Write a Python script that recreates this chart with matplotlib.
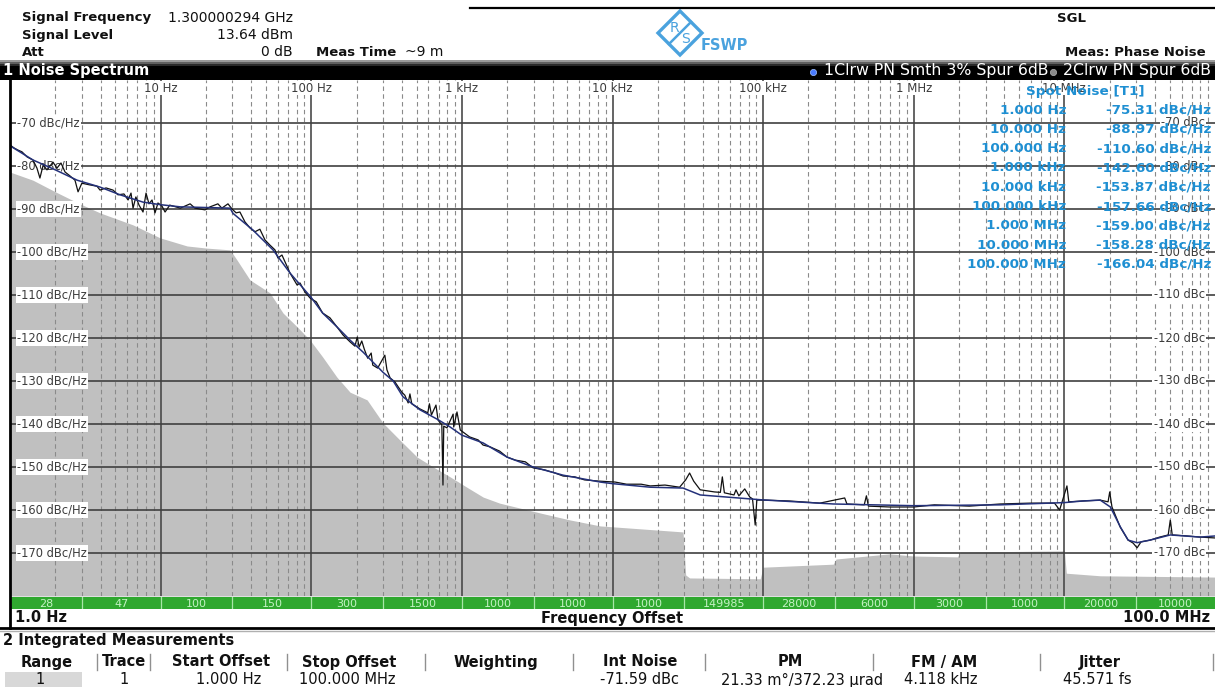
import numpy as np
import matplotlib
matplotlib.use("Agg")
import matplotlib.pyplot as plt
from matplotlib.patches import Rectangle, Polygon

plt.rcParams['font.family'] = ['DejaVu Sans']

W, H = 1215, 687

# ---------------- data ----------------
sig_freq = "1.300000294 GHz"
sig_level = "13.64 dBm"
att = "0 dB"
meas_time = "~9 m"

y_levels = [-70, -80, -90, -100, -110, -120, -130, -140, -150, -160, -170]
decades = [10, 100, 1e3, 1e4, 1e5, 1e6, 1e7]
decade_labels = ["10 Hz", "100 Hz", "1 kHz", "10 kHz", "100 kHz", "1 MHz", "10 MHz"]

# trace 1, raw (black) with spurs : (offset Hz, dBc/Hz)
raw_trace = [
    (1, -75.1), (1.063, -75.8), (1.13, -76.3), (1.20, -76.7), (1.30, -77.9), (1.42, -78.6),
    (1.51, -80.5), (1.58, -82.8), (1.66, -79.8), (1.76, -80.9), (1.93, -79.1), (2.05, -80.5),
    (2.18, -79.3), (2.32, -81.4), (2.50, -82.3), (2.70, -83.3), (2.83, -86.0), (3.0, -84.0),
    (3.39, -84.4), (3.78, -84.7), (3.96, -85.6), (4.34, -85.1), (4.83, -85.6), (5.21, -86.7),
    (5.71, -86.5), (6.08, -87.9), (6.36, -86.3), (6.56, -89.8), (6.85, -87.2), (7.19, -89.1),
    (7.64, -90.7), (8.0, -86.3), (8.37, -88.8), (8.77, -87.9), (9.18, -90.9), (9.6, -88.6),
    (10.2, -89.3), (10.7, -90.7), (11.5, -89.1), (13.5, -89.8), (15.7, -88.8), (16.9, -89.8),
    (19.7, -90.2), (21.3, -89.5), (24.0, -88.8), (25.5, -89.8), (28.0, -88.8), (29.8, -90.0),
    (31.7, -90.9), (33.6, -90.7), (36.3, -93.0), (39.2, -94.4), (42.3, -95.3), (45.6, -94.7),
    (49.3, -97.2), (53.2, -98.4), (57.4, -99.5), (60.1, -101.4), (63.9, -100.7), (72.3, -104.9),
    (80.6, -107.7), (84.2, -107.2), (90.8, -109.3), (98.2, -110.7), (108, -111.6), (119, -114.2),
    (133, -115.3), (148, -117.4), (162.6, -119.3), (181, -120.9), (195, -121.9), (202, -119.8),
    (208, -122.1), (216.5, -120.7), (225, -122.6), (237, -124.7), (250, -123.5), (256, -126.3),
    (276, -127.0), (308, -124.0), (318, -127.4), (334, -129.3), (359, -130.2), (399, -132.6),
    (418, -133.3), (440, -135.1), (452, -133.0), (465, -135.3), (527, -136.5), (594, -137.4),
    (609, -135.3), (628, -137.9), (673, -135.6), (695, -139.1), (736, -140.2), (749, -154.2),
    (758, -140.5), (796, -140.9), (875, -137.7), (883, -140.7), (928, -137.2), (976, -141.4),
    (1058, -142.3), (1125, -143.0), (1282, -143.7), (1383, -144.9), (1535, -145.3), (1780, -146.3),
    (1995, -147.7), (2266, -148.4), (2640, -148.8), (2970, -150.2), (3565, -150.7), (4150, -151.4),
    (4700, -152.1), (5630, -152.3), (6520, -153.0), (8280, -153.3), (10.4e3, -153.5), (12.4e3, -154.0),
    (15.5e3, -154.0), (17.8e3, -154.4), (22.3e3, -154.2), (27.9e3, -154.7), (30.6e3, -153.0),
    (32.5e3, -151.4), (34.6e3, -153.3), (38.2e3, -155.3), (47.6e3, -155.8), (52e3, -155.9),
    (53.6e3, -152.3), (55.3e3, -156.0), (64.1e3, -156.5), (66e3, -155.3), (69e3, -156.7),
    (75.5e3, -155.1), (81.6e3, -157.0), (85e3, -157.4), (88.6e3, -163.5), (90.8e3, -157.7),
    (103e3, -157.7), (149e3, -157.9), (238e3, -158.4), (348e3, -157.2), (360e3, -158.6),
    (469e3, -158.8), (485e3, -156.7), (500e3, -159.1), (690e3, -159.3), (1e6, -159.3),
    (1.37e6, -158.8), (2.34e6, -159.1), (3.75e6, -158.6), (5.92e6, -158.4), (8.6e6, -158.4),
    (9.3e6, -160.0), (9.6e6, -158.4), (10.4e6, -154.4), (10.7e6, -158.1), (13.3e6, -157.9),
    (17.3e6, -157.7), (19.5e6, -158.1), (20.0e6, -155.8), (20.7e6, -159.3), (23.5e6, -164.0),
    (26.5e6, -167.0), (28.6e6, -167.7), (30.4e6, -168.8), (32.3e6, -167.4), (37.1e6, -167.0),
    (42.9e6, -166.3), (48.9e6, -165.8), (50.5e6, -162.3), (52e6, -165.8), (63.2e6, -166.0),
    (79.8e6, -166.3), (1e8, -166.5),
]

# trace 1, smoothed (navy)
smooth_trace = [
    (1, -75.3), (1.42, -78.6), (2.0, -80.9), (2.79, -83.3), (3.96, -84.9), (5.38, -86.7),
    (7.64, -88.4), (10, -89.0), (13.5, -89.5), (28.9, -89.8), (30.2, -91.0), (41, -94.9),
    (55.7, -99.5), (72.3, -104.9), (100, -110.6), (119, -114.2), (148, -117.4), (181, -120.5),
    (221, -123.3), (300, -128.0), (350, -130.0), (407, -133.7), (527, -136.7), (695, -139.0),
    (836, -140.7), (1000, -142.6), (1383, -144.4), (1995, -147.7), (2970, -150.0), (4700, -151.9),
    (8280, -153.5), (1e4, -153.87), (17.8e3, -154.7), (29.4e3, -154.9), (38.2e3, -156.5),
    (1e5, -157.66), (292e3, -158.6), (1e6, -159.0), (3.75e6, -158.8), (1e7, -158.28),
    (13.3e6, -157.9), (17.3e6, -157.7), (20.2e6, -159.3), (23.5e6, -163.9), (26.5e6, -167.0),
    (30.4e6, -167.6), (37.1e6, -167.0), (50.5e6, -165.8), (79.8e6, -166.3), (1e8, -166.04),
]

# trace 2 (grey area)
floor_trace = [
    (1, -81.4), (1.42, -83.3), (2.0, -86.0), (2.83, -88.6), (3.96, -90.9), (6.56, -93.7),
    (9.9, -96.7), (15, -98.6), (20.3, -99.1), (28.9, -99.5), (32.2, -101.9), (39.2, -106.5),
    (53.2, -109.5), (65, -114.2), (80.6, -117.4), (98.2, -120.5), (119, -124.4), (148, -129.1),
    (181, -132.6), (235, -134.4), (300, -139.8), (387, -143.7), (505, -147.7), (646, -150.0),
    (836, -152.3), (1079, -154.7), (1385, -157.0), (1780, -158.4), (3320, -160.7), (5200, -162.3),
    (8280, -163.7), (29.4e3, -165.1), (30.6e3, -175.1), (32.5e3, -175.8), (95.6e3, -176.0),
    (100e3, -173.3), (292e3, -172.6), (305e3, -171.4), (690e3, -170.2), (1e6, -170.7),
    (1.95e6, -170.9), (2.04e6, -169.8), (10e6, -169.5), (10.3e6, -174.7), (17.3e6, -175.3),
    (1e8, -175.6),
]

spot_offsets = ["1.000 Hz", "10.000 Hz", "100.000 Hz", "1.000 kHz", "10.000 kHz",
                "100.000 kHz", "1.000 MHz", "10.000 MHz", "100.000 MHz"]
spot_values = [-75.31, -88.97, -110.60, -142.60, -153.87, -157.66, -159.00, -158.28, -166.04]

seg_edges = [1, 3, 10, 30, 100, 300, 1e3, 3e3, 1e4, 3e4, 1e5, 3e5, 1e6, 3e6, 1e7, 3e7, 1e8]
seg_labels = ["28", "47", "100", "150", "300", "1500", "1000", "1000", "1000",
              "149985", "28000", "6000", "3000", "1000", "20000", "10000"]

tbl_cols = ["Range", "Trace", "Start Offset", "Stop Offset", "Weighting",
            "Int Noise", "PM", "FM / AM", "Jitter"]
tbl_row = ["1", "1", "1.000 Hz", "100.000 MHz", "", "-71.59 dBc",
           "21.33 m\u00b0/372.23 \u00b5rad", "4.118 kHz", "45.571 fs"]

# ---------------- figure ----------------
fig = plt.figure(figsize=(W / 100, H / 100), dpi=100)
fig.patch.set_facecolor("white")


def ax_rect(x0, y0, x1, y1):
    return [x0 / W, 1 - y1 / H, (x1 - x0) / W, (y1 - y0) / H]


PX0, PY0, PX1, PY1 = 10, 80, 1215, 596
ax = fig.add_axes(ax_rect(PX0, PY0, PX1, PY1), zorder=1)
ax.set_xscale("log")
ax.set_xlim(1, 1e8)
ax.set_ylim(-180, -60)
ax.set_xticks([])
ax.set_yticks([])
ax.minorticks_off()
for s in ax.spines.values():
    s.set_visible(False)

ff, fd = zip(*floor_trace)
ax.fill_between(ff, fd, -180, color="#c0c0c0", lw=0, zorder=1)

for k in range(8):
    for m in range(2, 10):
        ax.axvline(m * 10 ** k, color="#8a8a8a", lw=0.8, ls=(0, (4, 3)), zorder=2)
for d in decades:
    ax.axvline(d, color="#4a4a4a", lw=1.2, zorder=2)
for v in y_levels:
    ax.axhline(v, color="#404040", lw=1.2, zorder=2)

lx = (17 - PX0) / (PX1 - PX0)
rx = (1205 - PX0) / (PX1 - PX0)
for v in y_levels:
    ax.text(lx, v, f"{v} dBc/Hz", transform=ax.get_yaxis_transform(), ha="left", va="center",
            fontsize=8.3, color="#3c3c3c", zorder=2.5,
            bbox=dict(fc="white", ec="none", pad=1.0))
    ax.text(rx, v, f"{v} dBc", transform=ax.get_yaxis_transform(), ha="right", va="center",
            fontsize=8.3, color="#3c3c3c", zorder=2.5,
            bbox=dict(fc="white", ec="none", pad=1.0))
ty = 1 - (88 - PY0) / (PY1 - PY0)
for d, lab in zip(decades, decade_labels):
    ax.text(d, ty, lab, transform=ax.get_xaxis_transform(), ha="center", va="center",
            fontsize=8.5, color="#3c3c3c", zorder=2.5,
            bbox=dict(fc="white", ec="none", pad=0.6))

rf, rd = zip(*raw_trace)
ax.plot(rf, rd, color="#111111", lw=0.9, zorder=3)
sf, sd = zip(*smooth_trace)
ax.plot(sf, sd, color="#24317a", lw=1.1, zorder=4)

# green segment bar
gax = fig.add_axes(ax_rect(PX0, 597, PX1, 609), zorder=1)
gax.set_xscale("log")
gax.set_xlim(1, 1e8)
gax.set_ylim(0, 1)
gax.axis("off")
for i, lab in enumerate(seg_labels):
    gax.axvspan(seg_edges[i], seg_edges[i + 1], color="#2fa82f", lw=0)
    gax.text(np.sqrt(seg_edges[i] * seg_edges[i + 1]), 0.45, lab, ha="center", va="center",
             fontsize=8, color="#c4f2c4")
for e in seg_edges[1:-1]:
    gax.axvline(e, color="#a8e6a8", lw=0.9)

# ---------------- screen layout (pixel overlay) ----------------
lay = fig.add_axes([0, 0, 1, 1], zorder=10)
lay.set_xlim(0, W)
lay.set_ylim(H, 0)
lay.axis("off")


def rect(x0, y0, x1, y1, **kw):
    lay.add_patch(Rectangle((x0, y0), x1 - x0, y1 - y0, lw=0, **kw))


# top line
lay.plot([470, W], [8, 8], color="black", lw=1.6)

# header
hb = dict(fontsize=9.5, fontweight="bold", va="center", color="#111111")
hn = dict(fontsize=10, va="center", color="#111111")
lay.text(22, 18, "Signal Frequency", **hb)
lay.text(22, 35, "Signal Level", **hb)
lay.text(22, 52, "Att", **hb)
lay.text(293, 18, sig_freq, ha="right", **hn)
lay.text(293, 35, sig_level, ha="right", **hn)
lay.text(293, 52, att, ha="right", **hn)
lay.text(316, 52, "Meas Time", **hb)
lay.text(405, 52, meas_time, **hn)
lay.text(1057, 18, "SGL", **hb)
lay.text(1206, 52, "Meas: Phase Noise", ha="right", **hb)

# R&S logo
blue = "#4aa2de"
cx, cy, r = 680, 33, 22
lay.add_patch(Polygon([(cx, cy - r), (cx + r, cy), (cx, cy + r), (cx - r, cy)], closed=True,
                      fill=False, ec=blue, lw=2.4))
lay.plot([cx - r / 2, cx + r / 2], [cy + r / 2, cy - r / 2], color=blue, lw=1.8)
lay.text(cx - 6, cy - 5, "R", color=blue, fontsize=10, ha="center", va="center")
lay.text(cx + 6, cy + 6, "S", color=blue, fontsize=10, ha="center", va="center")
lay.text(701, 45, "FSWP", color=blue, fontsize=10.5, fontweight="bold", va="center")

# title bar
rect(0, 60, W, 62, color="#9a9a9a")
rect(0, 62, W, 64, color="#606060")
rect(0, 64, W, 66, color="#2a2a2a")
rect(0, 66, W, 80, color="black")
lay.text(3, 71, "1 Noise Spectrum", color="white", fontsize=10.5, fontweight="bold", va="center")
lay.text(1211, 71, "2Clrw PN Spur 6dB", color="white", fontsize=11.3, ha="right", va="center")
lay.text(1049, 71, "1Clrw PN Smth 3% Spur 6dB", color="white", fontsize=11.3, ha="right", va="center")
lay.plot([813], [71.5], "o", ms=4.5, color="#4a7bff", mec="#a0c0ff", mew=0.5)
lay.plot([1053], [71.5], "o", ms=4.5, color="#8a8a8a", mec="#b0b0b0", mew=0.5)

# spot noise table
spot_c = "#1e8fd2"
lay.text(1085, 92, "Spot Noise [T1]", color=spot_c, fontsize=9.7, fontweight="bold",
         ha="center", va="center")
for i, (lab, val) in enumerate(zip(spot_offsets, spot_values)):
    yy = 110 + 19.3 * i
    lay.text(1066, yy, lab, color=spot_c, fontsize=9.7, fontweight="bold", ha="right", va="center")
    lay.text(1211, yy, f"{val:.2f} dBc/Hz", color=spot_c, fontsize=9.7, fontweight="bold",
             ha="right", va="center")

# left border and bottom lines
lay.plot([9.5, 9.5], [80, 628], color="black", lw=2)
lay.plot([0, W], [627.5, 627.5], color="black", lw=2)
lay.plot([0, W], [630.5, 630.5], color="#b0b0b0", lw=1)

bb = dict(fontsize=10.5, fontweight="bold", va="center", color="#111111")
lay.text(15, 618, "1.0 Hz", **bb)
lay.text(612, 618, "Frequency Offset", ha="center", **bb)
lay.text(1210, 618, "100.0 MHz", ha="right", **bb)

lay.text(3, 641, "2 Integrated Measurements", **bb)

col_cx = [47, 124, 221, 349, 496, 640, 790, 944, 1100]
col_sep = [97, 150, 287, 425, 573, 705, 873, 1040, 1213]
val_cx = [40, 124, 229, 347, 496, 640, 802, 941, 1097]
rect(5, 672, 82, 687, color="#d8d8d8")
for c, x in zip(tbl_cols, col_cx):
    lay.text(x, 662, c, ha="center", **bb)
for s in col_sep:
    lay.plot([s, s], [654, 670], color="#909090", lw=1)
for v, x in zip(tbl_row, val_cx):
    lay.text(x, 680, v, ha="center", va="center", fontsize=10.5, color="#111111")

fig.savefig("out.png", dpi=100)
